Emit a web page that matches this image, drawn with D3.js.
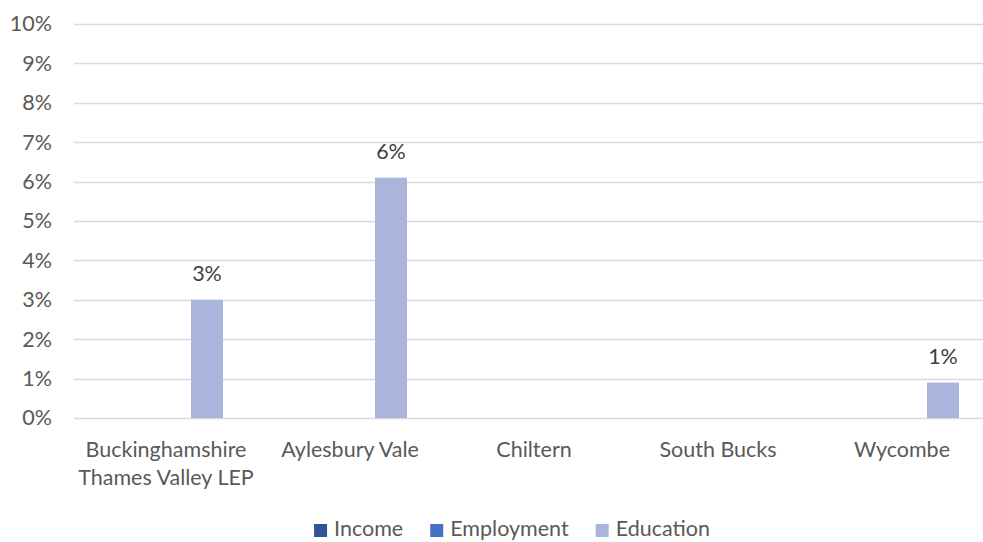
<!DOCTYPE html>
<html>
<head>
<meta charset="utf-8">
<script src="https://cdn.jsdelivr.net/npm/d3@7/dist/d3.min.js"></script>
<style>
  html, body { margin: 0; padding: 0; background: #fff; }
  svg { display: block; font-family: Lato, "Open Sans", sans-serif; }
</style>
</head>
<body>
<svg id="chart" width="983" height="542"></svg>
<script>
// Share of areas by deprivation domain
const categories = [
  ["Buckinghamshire", "Thames Valley LEP"],
  ["Aylesbury Vale"],
  ["Chiltern"],
  ["South Bucks"],
  ["Wycombe"]
];
const seriesNames = ["Income", "Employment", "Education"];
const seriesColors = ["#2F5597", "#4472C4", "#A9B5DA"];
const income = [0, 0, 0, 0, 0];
const employment = [0, 0, 0, 0, 0];
const education = [0.030, 0.061, 0, 0, 0.009];
const yTicks = [0, 0.01, 0.02, 0.03, 0.04, 0.05, 0.06, 0.07, 0.08, 0.09, 0.10];

const seriesValues = [income, employment, education];
const svg = d3.select("#chart");
const textColor = "#595959";
const fontSize = "21.5px";

const margin = { left: 74, right: -11, top: 24, bottom: 124 };
const W = 983, H = 542;

const catKeys = categories.map((c, i) => i);
const x = d3.scaleBand().domain(catKeys).range([margin.left, W - margin.right]).paddingInner(0).paddingOuter(0);
const y = d3.scaleLinear().domain([0, 0.10]).range([H - margin.bottom, margin.top]);

// series positions inside each category
const barW = 32, barGap = 9;
const xs = d3.scaleBand().domain(seriesNames)
  .range([-(3 * barW + 2 * barGap) / 2, (3 * barW + 2 * barGap) / 2])
  .paddingInner(barGap / (barW + barGap)).paddingOuter(0);

// gridlines
svg.append("g").selectAll("line").data(yTicks).join("line")
  .attr("x1", margin.left).attr("x2", W - margin.right)
  .attr("y1", d => Math.round(y(d)) + 0.5).attr("y2", d => Math.round(y(d)) + 0.5)
  .attr("stroke", "#D9D9D9").attr("stroke-width", 1.3);

// y axis labels
const yAxis = d3.axisLeft(y).tickValues(yTicks).tickFormat(d3.format(".0%")).tickSize(0).tickPadding(22);
const gy = svg.append("g").attr("transform", `translate(${margin.left},0)`).call(yAxis);
gy.select(".domain").remove();
gy.selectAll("text").attr("fill", textColor).style("font-size", fontSize).style("font-family", "Lato, sans-serif");

// bars
seriesNames.forEach((name, si) => {
  svg.append("g").selectAll("rect").data(seriesValues[si]).join("rect")
    .attr("x", (d, i) => x(i) + x.bandwidth() / 2 + xs(name))
    .attr("width", xs.bandwidth())
    .attr("y", d => y(d))
    .attr("height", d => y(0) - y(d))
    .attr("fill", seriesColors[si]);
});

// value labels (only non-zero values)
const fmt = d3.format(".0%");
svg.append("g").selectAll("text")
  .data(education.map((v, i) => ({ v, i })).filter(d => d.v > 0))
  .join("text")
  .attr("x", d => x(d.i) + x.bandwidth() / 2 + xs("Education") + xs.bandwidth() / 2)
  .attr("y", d => y(d.v) - 19)
  .attr("text-anchor", "middle")
  .attr("fill", "#404040")
  .style("font-size", fontSize)
  .text(d => fmt(d.v));

// category labels
const gx = svg.append("g");
categories.forEach((lines, i) => {
  const t = gx.append("text")
    .attr("x", x(i) + x.bandwidth() / 2)
    .attr("y", y(0) + 39)
    .attr("text-anchor", "middle")
    .attr("fill", textColor)
    .style("font-size", fontSize);
  lines.forEach((ln, k) => {
    t.append("tspan").attr("x", x(i) + x.bandwidth() / 2).attr("dy", k === 0 ? 0 : 28).text(ln);
  });
});

// legend
const leg = svg.append("g");
const sq = 13, gapText = 7, gapItem = 27;
let cx = 0;
seriesNames.forEach((name, i) => {
  const g = leg.append("g");
  g.append("rect").attr("x", 0).attr("y", -sq + 1).attr("width", sq).attr("height", sq).attr("fill", seriesColors[i]);
  const t = g.append("text").attr("x", sq + gapText).attr("y", 0).attr("fill", textColor)
    .style("font-size", fontSize).text(name);
  const w = sq + gapText + t.node().getComputedTextLength();
  g.attr("transform", `translate(${cx},0)`);
  cx += w + gapItem;
});
const totalW = cx - gapItem;
leg.attr("transform", `translate(${512 - totalW / 2},536)`);
</script>
</body>
</html>
